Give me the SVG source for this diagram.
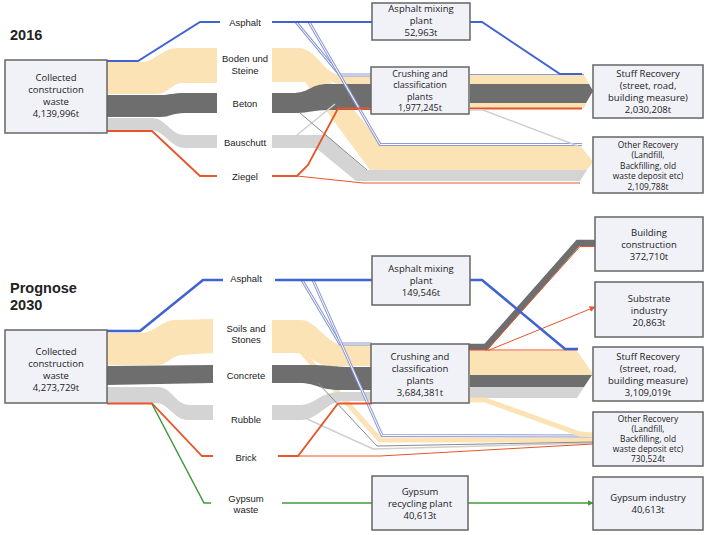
<svg xmlns="http://www.w3.org/2000/svg" xmlns:xlink="http://www.w3.org/1999/xlink" width="707" height="535" viewBox="0 0 707 535">
<style>
.box{fill:#f1f1f8;stroke:#666;stroke-width:1.5}
.bt{font-family:"Open Sans","Noto Sans",sans-serif;font-size:9.5px;fill:#222;text-anchor:middle}
.bm{font-family:"Open Sans","Noto Sans",sans-serif;font-size:9px;fill:#222;text-anchor:middle}
.bs{font-family:"Open Sans","Noto Sans",sans-serif;font-size:8.4px;fill:#222;text-anchor:middle}
.lb{font-family:"Liberation Sans",Arial,sans-serif;font-size:9.5px;fill:#222;text-anchor:middle}
.yr{font-family:"Liberation Sans",Arial,sans-serif;font-size:14.5px;font-weight:bold;fill:#222}
.tan{fill:#fce3b5}
.dg{fill:#6e6e6e}
.lg{fill:#d4d4d4}
.blue{fill:none;stroke:#3f63d0;stroke-width:2}
.blueT{fill:none;stroke:#3f63d0;stroke-width:2.6}
.or{fill:none;stroke:#e8552a;stroke-width:1.8}
.orT{fill:none;stroke:#e8552a;stroke-width:1}
.grn{fill:none;stroke:#3f9a3f;stroke-width:1.5}
.dblO{fill:none;stroke:#8d9bd6;stroke-width:3}
.dblI{fill:none;stroke:#ffffff;stroke-width:1}
.lbl{fill:none;stroke:#8d9bd6;stroke-width:1}
.lgl{fill:none;stroke:#cfcfcf;stroke-width:1.5}
.dgl{fill:none;stroke:#8a8a8a;stroke-width:1}
.tanl{fill:none;stroke:#fce3b5}
</style>
<defs>
<marker id="ao" viewBox="0 0 6 6" refX="5.5" refY="3" markerWidth="6" markerHeight="6" orient="auto" markerUnits="userSpaceOnUse"><path d="M0,0 L6,3 L0,6 Z" fill="#e8552a"/></marker>
<marker id="ag" viewBox="0 0 6 6" refX="5.5" refY="3" markerWidth="6" markerHeight="6" orient="auto" markerUnits="userSpaceOnUse"><path d="M0,0 L6,3 L0,6 Z" fill="#3f9a3f"/></marker>
<path id="d1" d="M296,22 L340,75 L372,75"/>
<path id="d2" d="M309,22 L380,144.5 L582,144.5"/>
<path id="d3" d="M302,280 L340,344 L372,344"/>
<path id="d4" d="M313,280 L382,435.5 L593,436"/>
</defs>

<text class="yr" x="10" y="40">2016</text>
<text class="yr" x="10" y="293">Prognose</text>
<text class="yr" x="10" y="310">2030</text>

<g id="connectors">
<!-- 2016 left -->
<path class="tan" d="M107,62 L142,62 C155,62 162,48 178,48 L217,48 L217,83 L182,83 C172,83 168,94 157,94 L107,94 Z"/>
<path class="dg" d="M107,95 L160,95 C170,95 172,93 185,93 L217,93 L217,113 L185,113 C172,113 170,117 160,117 L107,117 Z"/>
<path class="lg" d="M107,118 L152,118 C166,118 170,135 185,135 L217,135 L217,148 L185,148 C170,148 165,130 150,130 L107,130 Z"/>
<polyline class="blue" points="107,61 138,61 200,22 220,22"/>
<polyline class="or" points="107,131 152,131 200,176 217,176"/>
<!-- 2016 middle -->
<path class="tan" d="M272,57 L310,57 L383,145 L580,145 L593,162 L587,170 L370,170 L305,82 L272,82 Z"/>
<path class="tan" d="M272,48 L298,48 C318,48 322,75 342,75 L372,75 L372,84 L340,84 C322,84 318,57 300,57 L272,57 Z"/>
<path class="lg" d="M272,135 L326,135 L366,170 L587,170 L580,181 L356,181 L316,148 L272,148 Z"/>
<path class="dg" d="M272,93 L292,93 C310,93 310,84 328,84 L372,84 L372,110 L330,110 C312,110 310,113 295,113 L272,113 Z"/>
<line class="lgl" x1="297" y1="135" x2="335" y2="104"/>
<line class="dgl" x1="300" y1="113" x2="367" y2="170"/>
<use href="#d1" class="dblO"/><use href="#d1" class="dblI"/>
<use href="#d2" class="dblO"/><use href="#d2" class="dblI"/>
<polyline class="blue" points="272,22 372,22"/>
<polyline class="or" points="272,176 297,176 308,165 338,108.5 372,108.5"/>
<polyline class="orT" points="297,176 363,183 580,183"/>
<!-- 2016 right -->
<path class="tan" d="M470,75 L584,75 L593,91 L584,108 L470,108 Z"/>
<path class="dg" d="M470,84 L589,84 L593,91 L586,103 L470,103 Z"/>
<line class="lbl" x1="470" y1="74.5" x2="584" y2="74.5"/>
<polyline class="or" points="470,108.5 582,108.5"/>
<polyline class="lgl" points="470,110 483,110 578,146"/>
<polyline class="blue" points="470,22 482,22 560,74 582,74"/>

<!-- 2030 left -->
<path class="tan" d="M107,333 L140,333 C155,333 160,321 175,320 L213,319 L213,353 L182,355 C170,356 168,365 158,365 L107,365 Z"/>
<path class="dg" d="M107,366 L213,365 L213,383 L107,385 Z"/>
<path class="lg" d="M107,387 L158,387 C172,387 175,405 190,405 L213,405 L213,420 L188,420 C173,420 170,403 155,403 L107,403 Z"/>
<polyline class="blueT" points="107,331 140,331 203,280 223,280"/>
<polyline class="or" points="107,403.5 152,403.5 202,456 213,456"/>
<polyline class="grn" points="152,404 204,503 211,503"/>
<!-- 2030 middle -->
<polyline class="tanl" stroke-width="5" points="300,350 380,440 593,440"/>
<path class="tan" d="M272,320 L300,320 C318,320 325,345 345,345 L372,345 L372,366 L330,366 C315,366 310,353 295,353 L272,353 Z"/>
<path class="dg" d="M272,365 L310,365 C330,365 335,367 350,367 L372,367 L372,390 L340,390 C320,390 315,383 300,383 L272,383 Z"/>
<path class="lg" d="M272,405 L300,405 C315,405 320,392 340,392 L372,392 L372,401 L345,401 C325,401 320,420 300,420 L272,420 Z"/>
<polyline class="lgl" points="305,418 373,449 593,443"/>
<polyline class="dgl" points="318,383 377,446 593,442"/>
<use href="#d3" class="dblO"/><use href="#d3" class="dblI"/>
<use href="#d4" class="dblO"/><use href="#d4" class="dblI"/>
<polyline class="blueT" points="275,280 372,280"/>
<polyline class="or" points="278,456 298,456 338,403.5 372,403.5"/>
<polyline class="orT" points="298,456 380,456 593,444"/>
<polyline class="grn" points="282,503 372,503"/>
<!-- 2030 right -->
<path class="tan" d="M470,351 L577,351 L593,374 L592,375 L470,375 Z"/>
<path class="dg" d="M470,375 L592,375 L584,387 L470,387 Z"/>
<path class="lg" d="M470,387 L584,387 L577,398 L470,398 Z"/>
<polyline class="tanl" stroke-width="5" points="468,400 485,400 580,434 593,435"/>
<polyline fill="none" stroke="#6e6e6e" stroke-width="6.5" stroke-linejoin="miter" points="468,347 486,347 578,243 595,243"/>
<polyline class="orT" stroke-width="1.2" points="486,351 580,246.5 595,246.5"/>
<line class="orT" x1="488" y1="350.5" x2="595" y2="307" marker-end="url(#ao)"/>
<line class="orT" stroke-width="1.2" x1="470" y1="350" x2="577" y2="350"/>
<polyline class="blueT" points="470,280 482,280 565,349 578,349"/>
<line class="grn" x1="468" y1="503" x2="593" y2="503" marker-end="url(#ag)"/>
</g>

<g id="labels2016">
<text class="lb" x="245" y="25.5">Asphalt</text>
<text class="lb" x="245" y="61.5">Boden und</text>
<text class="lb" x="245" y="73.5">Steine</text>
<text class="lb" x="245" y="106.5">Beton</text>
<text class="lb" x="245" y="145.5">Bauschutt</text>
<text class="lb" x="245" y="179.5">Ziegel</text>
</g>
<g id="labels2030">
<text class="lb" x="246" y="281.5">Asphalt</text>
<text class="lb" x="246" y="331.5">Soils and</text>
<text class="lb" x="246" y="342.5">Stones</text>
<text class="lb" x="246" y="378.5">Concrete</text>
<text class="lb" x="246" y="422.5">Rubble</text>
<text class="lb" x="246" y="460.5">Brick</text>
<text class="lb" x="246" y="501.5">Gypsum</text>
<text class="lb" x="246" y="512.5">waste</text>
</g>

<g id="collected2016">
<rect class="box" x="5" y="60" width="102" height="73"/>
<text class="bt" x="56" y="80.5">Collected</text>
<text class="bt" x="56" y="92.5">construction</text>
<text class="bt" x="56" y="104.5">waste</text>
<text class="bt" x="56" y="116.5">4,139,996t</text>
</g>
<g id="asphalt2016">
<rect class="box" x="372" y="3" width="98" height="37"/>
<text class="bt" x="421" y="11.5">Asphalt mixing</text>
<text class="bt" x="421" y="23.5">plant</text>
<text class="bt" x="421" y="35.5">52,963t</text>
</g>
<g id="crushing2016">
<rect class="box" x="371" y="67" width="98" height="47"/>
<text class="bm" x="420" y="76.5">Crushing and</text>
<text class="bm" x="420" y="88">classification</text>
<text class="bm" x="420" y="99.5">plants</text>
<text class="bm" x="420" y="111">1,977,245t</text>
</g>
<g id="stuff2016">
<rect class="box" x="593" y="65" width="110" height="53"/>
<text class="bt" x="648" y="76.5">Stuff Recovery</text>
<text class="bt" x="648" y="89">(street, road,</text>
<text class="bt" x="648" y="101">building measure)</text>
<text class="bt" x="648" y="112.5">2,030,208t</text>
</g>
<g id="other2016">
<rect class="box" x="593" y="137" width="110" height="56"/>
<text class="bs" x="648" y="147.5">Other Recovery</text>
<text class="bs" x="648" y="158">(Landfill,</text>
<text class="bs" x="648" y="168.5">Backfilling, old</text>
<text class="bs" x="648" y="179">waste deposit etc)</text>
<text class="bs" x="648" y="189.5">2,109,788t</text>
</g>

<g id="collected2030">
<rect class="box" x="5" y="330" width="102" height="73"/>
<text class="bt" x="56" y="355">Collected</text>
<text class="bt" x="56" y="367">construction</text>
<text class="bt" x="56" y="379">waste</text>
<text class="bt" x="56" y="391">4,273,729t</text>
</g>
<g id="asphalt2030">
<rect class="box" x="372" y="256" width="98" height="49"/>
<text class="bt" x="421" y="271.5">Asphalt mixing</text>
<text class="bt" x="421" y="283.5">plant</text>
<text class="bt" x="421" y="295.5">149,546t</text>
</g>
<g id="crushing2030">
<rect class="box" x="371" y="344" width="98" height="59"/>
<text class="bt" x="420" y="359.5">Crushing and</text>
<text class="bt" x="420" y="371.5">classification</text>
<text class="bt" x="420" y="384">plants</text>
<text class="bt" x="420" y="396">3,684,381t</text>
</g>
<g id="building2030">
<rect class="box" x="595" y="217" width="108" height="54"/>
<text class="bt" x="649" y="235.5">Building</text>
<text class="bt" x="649" y="247.5">construction</text>
<text class="bt" x="649" y="259.5">372,710t</text>
</g>
<g id="substrate2030">
<rect class="box" x="595" y="282" width="108" height="55"/>
<text class="bt" x="649" y="301.5">Substrate</text>
<text class="bt" x="649" y="313.5">industry</text>
<text class="bt" x="649" y="325.5">20,863t</text>
</g>
<g id="stuff2030">
<rect class="box" x="593" y="347" width="110" height="54"/>
<text class="bt" x="648" y="359.5">Stuff Recovery</text>
<text class="bt" x="648" y="371.5">(street, road,</text>
<text class="bt" x="648" y="383.5">building measure)</text>
<text class="bt" x="648" y="395.5">3,109,019t</text>
</g>
<g id="other2030">
<rect class="box" x="593" y="412" width="110" height="54"/>
<text class="bs" x="648" y="421.5">Other Recovery</text>
<text class="bs" x="648" y="431.5">(Landfill,</text>
<text class="bs" x="648" y="441.5">Backfilling, old</text>
<text class="bs" x="648" y="451.5">waste deposit etc)</text>
<text class="bs" x="648" y="461.5">730,524t</text>
</g>
<g id="gypsumplant2030">
<rect class="box" x="372" y="476" width="96" height="54"/>
<text class="bt" x="420" y="495">Gypsum</text>
<text class="bt" x="420" y="507">recycling plant</text>
<text class="bt" x="420" y="519">40,613t</text>
</g>
<g id="gypsumind2030">
<rect class="box" x="593" y="477" width="110" height="53"/>
<text class="bt" x="648" y="501">Gypsum industry</text>
<text class="bt" x="648" y="513">40,613t</text>
</g>
</svg>
